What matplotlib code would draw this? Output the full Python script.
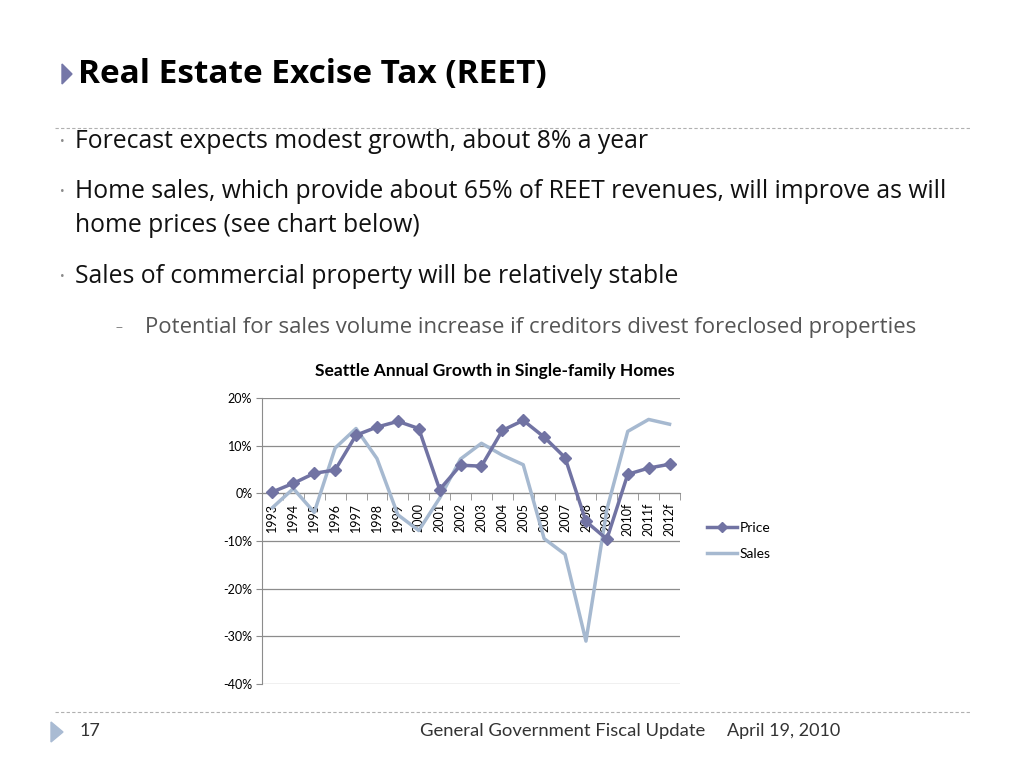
import matplotlib.pyplot as plt
from matplotlib.lines import Line2D
from matplotlib.patches import Polygon

years = ["1993", "1994", "1995", "1996", "1997", "1998", "1999", "2000", "2001", "2002",
         "2003", "2004", "2005", "2006", "2007", "2008", "2009", "2010f", "2011f", "2012f"]
price = [0.3, 2.1, 4.2, 4.9, 12.2, 13.9, 15.1, 13.6, 0.8, 5.9,
         5.7, 13.2, 15.3, 11.8, 7.5, -5.9, -9.6, 4.0, 5.3, 6.1]
sales = [-3.0, 1.0, -4.0, 9.5, 13.6, 7.3, -4.5, -7.8, -1.0, 7.2,
         10.5, 8.0, 6.0, -9.5, -12.8, -31.0, -3.4, 13.0, 15.5, 14.5]
yticks = [20, 10, 0, -10, -20, -30, -40]

price_color = "#7173A3"
sales_color = "#A6B9D0"
grid_color = "#8C8C8C"
main_font = ["Open Sans", "DejaVu Sans"]
chart_font = ["Lato", "DejaVu Sans"]

fig = plt.figure(figsize=(10.24, 7.68), dpi=100)

# slide header
fig.patches.append(Polygon([[62 / 1024, 1 - 64 / 768], [62 / 1024, 1 - 84 / 768], [72 / 1024, 1 - 74 / 768]],
                           closed=True, transform=fig.transFigure, color="#7577A8"))
fig.text(78 / 1024, 1 - 74 / 768, "Real Estate Excise Tax (REET)", fontsize=24, fontweight="bold",
         family=main_font, va="center", ha="left")
fig.add_artist(Line2D([55 / 1024, 970 / 1024], [1 - 128 / 768] * 2, transform=fig.transFigure,
                      color="#B0B0B0", lw=0.8, ls=(0, (3, 2))))
fig.add_artist(Line2D([55 / 1024, 970 / 1024], [1 - 712 / 768] * 2, transform=fig.transFigure,
                      color="#B0B0B0", lw=0.8, ls=(0, (3, 2))))

body_size = 17.8
bullets = [
    (141, "Forecast expects modest growth, about 8% a year"),
    (192, "Home sales, which provide about 65% of REET revenues, will improve as will"),
    (226, None),
    (277, "Sales of commercial property will be relatively stable"),
]
for y, txt in bullets:
    if txt is None:
        fig.text(75 / 1024, 1 - y / 768, "home prices (see chart below)", fontsize=body_size,
                 family=main_font, va="center", color="#111111")
        continue
    fig.text(60 / 1024, 1 - y / 768, "•", fontsize=9, color="#8A8A8A", va="center", family=main_font)
    fig.text(75 / 1024, 1 - y / 768, txt, fontsize=body_size, family=main_font, va="center", color="#111111")
fig.text(116 / 1024, 1 - 327 / 768, "–", fontsize=10, color="#8A8A8A", va="center", family=main_font)
fig.text(145 / 1024, 1 - 327 / 768, "Potential for sales volume increase if creditors divest foreclosed properties",
         fontsize=15.9, family=main_font, va="center", color="#555555")

# footer
fig.patches.append(Polygon([[51 / 1024, 1 - 722 / 768], [51 / 1024, 1 - 742 / 768], [63 / 1024, 1 - 732 / 768]],
                           closed=True, transform=fig.transFigure, color="#A9BBD3"))
fig.text(80 / 1024, 1 - 731 / 768, "17", fontsize=13, family=chart_font, va="center", color="#333333")
fig.text(420 / 1024, 1 - 731 / 768, "General Government Fiscal Update", fontsize=13.3, family=chart_font,
         va="center", color="#333333")
fig.text(727 / 1024, 1 - 731 / 768, "April 19, 2010", fontsize=13, family=chart_font, va="center", color="#333333")

# chart
fig.text(495 / 1024, 1 - 371 / 768, "Seattle Annual Growth in Single-family Homes", fontsize=12.5,
         fontweight="bold", family=chart_font, ha="center", va="center")

ax = fig.add_axes([262 / 1024, 1 - 684 / 768, 418 / 1024, 286 / 768])
x = list(range(len(years)))
ax.plot(x, sales, color=sales_color, lw=2.5, label="Sales", zorder=3)
ax.plot(x, price, color=price_color, lw=2.5, marker="D", markersize=6, label="Price", zorder=4)

ax.set_xlim(-0.5, len(years) - 0.5)
ax.set_ylim(-40, 20)
ax.set_yticks(yticks)
ax.set_yticklabels([f"{v}%" for v in yticks], family=chart_font, fontsize=9)
for v in yticks:
    ax.axhline(v, color=grid_color, lw=0.9, zorder=1)
ax.spines["top"].set_visible(False)
ax.spines["right"].set_visible(False)
ax.spines["left"].set_color(grid_color)
ax.spines["bottom"].set_position(("data", 0))
ax.spines["bottom"].set_color(grid_color)
ax.tick_params(axis="y", length=4, color=grid_color, pad=3)

ax.set_xticks(x)
ax.set_xticklabels(years, rotation=90, family=chart_font, fontsize=9)
ax.set_xticks([i - 0.5 for i in range(len(years) + 1)], minor=True)
ax.tick_params(axis="x", which="major", length=0, pad=7)
ax.tick_params(axis="x", which="minor", length=5, color=grid_color, direction="out")

handles = [Line2D([], [], color=price_color, lw=2.5, marker="D", markersize=5),
           Line2D([], [], color=sales_color, lw=2.5)]
fig.legend(handles, ["Price", "Sales"], loc="center left", bbox_to_anchor=(694 / 1024, 1 - 541 / 768),
           frameon=False, prop={"family": chart_font, "size": 10}, handlelength=2.2,
           handletextpad=0.2, labelspacing=1.0)

fig.savefig("out.png", dpi=100)
